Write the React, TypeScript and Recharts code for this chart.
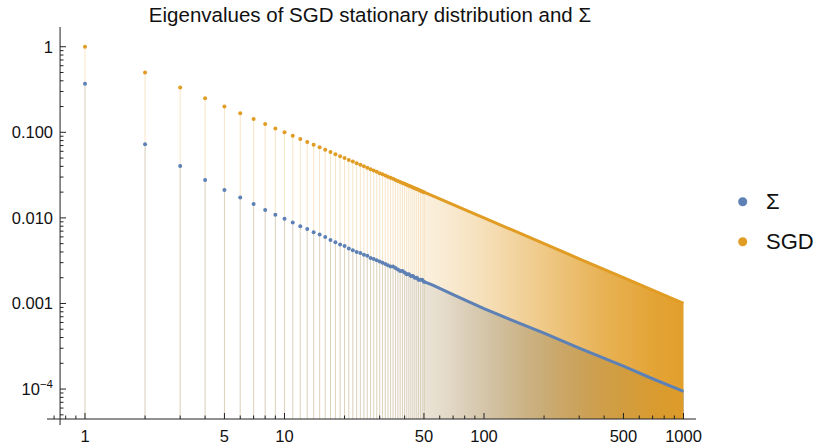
import React from 'react';
import { ComposedChart, XAxis, YAxis, Area, Line, ReferenceLine } from 'recharts';

// eigenvalue index (individually visible points)
const dotK = [
  1, 2, 3, 4, 5, 6, 7, 8, 9, 10, 11, 12, 13, 14, 15, 16, 17, 18, 19, 20,
  21, 22, 23, 24, 25, 26, 27, 28, 29, 30, 31, 32, 33, 34, 35, 36, 37, 38, 39, 40,
  41, 42, 43, 44, 45, 46, 47, 48, 49, 50,
];
const sgdDot = [
  1, 0.5, 0.3333, 0.25, 0.2, 0.1667, 0.1429, 0.125, 0.1111, 0.1,
  0.0909, 0.0833, 0.0769, 0.0714, 0.0667, 0.0625, 0.0588, 0.0556, 0.0526, 0.05,
  0.0476, 0.0455, 0.0435, 0.0417, 0.04, 0.0385, 0.037, 0.0357, 0.0345, 0.0333,
  0.0323, 0.0313, 0.0303, 0.0294, 0.0286, 0.0278, 0.027, 0.0263, 0.0256, 0.025,
  0.0244, 0.0238, 0.0233, 0.0227, 0.0222, 0.0217, 0.0213, 0.0208, 0.0204, 0.02,
];
const sigmaDot = [
  0.37, 0.0726, 0.0405, 0.0278, 0.0212, 0.0173, 0.0145, 0.0124, 0.0109, 0.0098,
  0.00885, 0.008, 0.0074, 0.0068, 0.0064, 0.006, 0.0055, 0.0052, 0.0049, 0.0047,
  0.0044, 0.0042, 0.004, 0.0039, 0.0037, 0.0036, 0.0034, 0.0033, 0.0032, 0.0031,
  0.003, 0.0029, 0.0028, 0.0027, 0.0027, 0.0026, 0.0025, 0.0024, 0.0024, 0.0023,
  0.0022, 0.0022, 0.0021, 0.0021, 0.002, 0.002, 0.0019, 0.0019, 0.0019, 0.0018,
];

// dense part, where the points merge into a band
const tailK = [55, 60, 70, 80, 100, 150, 200, 300, 500, 700, 1000];
const sgdTail = [0.0182, 0.0167, 0.0143, 0.0125, 0.01, 0.00667, 0.005, 0.00333, 0.002, 0.00143, 0.001];
const sigmaTail = [0.00165, 0.0015, 0.00127, 0.0011, 0.00087, 0.00059, 0.00045, 0.0003, 0.000185, 0.000132, 0.000094];

const xMajorTicks = [1, 5, 10, 50, 100, 500, 1000];
const xMinorTicks = [0.7, 0.8, 0.9, 2, 3, 4, 6, 7, 8, 9, 20, 30, 40, 60, 70, 80, 90, 200, 300, 400, 600, 700, 800, 900];
const yMajorTicks = [1, 0.1, 0.01, 0.001, 0.0001];
const yMajorLabels = ['1', '0.100', '0.010', '0.001', '10^-4'];
const yMinorTicks = [
  0.9, 0.8, 0.7, 0.6, 0.5, 0.4, 0.3, 0.2,
  0.09, 0.08, 0.07, 0.06, 0.05, 0.04, 0.03, 0.02,
  0.009, 0.008, 0.007, 0.006, 0.005, 0.004, 0.003, 0.002,
  0.0009, 0.0008, 0.0007, 0.0006, 0.0005, 0.0004, 0.0003, 0.0002,
  0.00009, 0.00008, 0.00007, 0.00006, 0.00005,
];

const seriesNames = ['Σ', 'SGD'];
const seriesColors = ['#5E81B5', '#E19C24'];

const X_DOMAIN = [0.645, 1155];
const Y_DOMAIN = [4.47e-5, 1.7];
const Y_AXIS_AT = 0.75;
const TAIL_FROM = 40;
const FONT = '"Liberation Sans", Arial, sans-serif';
const AXIS_COLOR = '#222';

const rows = [
  ...dotK.map((k, i) => ({
    k,
    sgd: sgdDot[i],
    sigma: sigmaDot[i],
    sgdPt: sgdDot[i],
    sigmaPt: sigmaDot[i],
    sgdLine: k >= TAIL_FROM ? sgdDot[i] : null,
    sigmaLine: k >= TAIL_FROM ? sigmaDot[i] : null,
  })),
  ...tailK.map((k, i) => ({
    k,
    sgd: sgdTail[i],
    sigma: sigmaTail[i],
    sgdPt: null,
    sigmaPt: null,
    sgdLine: sgdTail[i],
    sigmaLine: sigmaTail[i],
  })),
];

const XTick = (props: any) => {
  const { x, y, payload } = props;
  const major = xMajorTicks.includes(payload.value);
  return (
    <g>
      <line x1={x} x2={x} y1={y} y2={y - (major ? 6 : 3.5)} stroke={AXIS_COLOR} />
      {major && (
        <text x={x} y={y + 23} textAnchor="middle" fontSize={16.5} fontFamily={FONT} fill="#111">
          {payload.value}
        </text>
      )}
    </g>
  );
};

const YTick = (props: any) => {
  const { x, y, payload } = props;
  const idx = yMajorTicks.indexOf(payload.value);
  const major = idx >= 0;
  const axisX = x + 13;
  const label = major ? yMajorLabels[idx] : '';
  return (
    <g>
      <line x1={axisX} x2={axisX + (major ? 6 : 3.5)} y1={y} y2={y} stroke={AXIS_COLOR} />
      {major && (
        <text x={x + 6} y={y + 6} textAnchor="end" fontSize={16.5} fontFamily={FONT} fill="#111">
          {label.includes('^') ? (
            <>
              <tspan>{label.split('^')[0]}</tspan>
              <tspan dy={-7} fontSize={11.5}>{label.split('^')[1].replace('-', '−')}</tspan>
            </>
          ) : (
            label
          )}
        </text>
      )}
    </g>
  );
};

export default function App() {
  return (
    <div style={{ position: 'absolute', left: 0, top: 0, width: 820, height: 444, background: '#fff' }}>
      <div
        style={{
          position: 'absolute',
          left: 0,
          width: 740,
          top: 5,
          textAlign: 'center',
          fontFamily: FONT,
          fontSize: 20.5,
          lineHeight: '20.5px',
          color: '#111',
          whiteSpace: 'nowrap',
        }}
      >
        Eigenvalues of SGD stationary distribution and Σ
      </div>

      <ComposedChart width={820} height={444} data={rows} margin={{ top: 27, right: 124, bottom: 0, left: 0 }}>
        <defs>
          {/* stems get denser to the right: fill fades in with log(k) */}
          <linearGradient id="sigmaFade" x1="0" y1="0" x2="1" y2="0">
            <stop offset="0" stopColor={seriesColors[0]} stopOpacity={0} />
            <stop offset="0.5" stopColor={seriesColors[0]} stopOpacity={0} />
            <stop offset="0.566" stopColor={seriesColors[0]} stopOpacity={0.03} />
            <stop offset="0.5665" stopColor={seriesColors[0]} stopOpacity={0.12} />
            <stop offset="0.6" stopColor={seriesColors[0]} stopOpacity={0.16} />
            <stop offset="0.667" stopColor={seriesColors[0]} stopOpacity={0.3} />
            <stop offset="0.767" stopColor={seriesColors[0]} stopOpacity={0.5} />
            <stop offset="0.867" stopColor={seriesColors[0]} stopOpacity={0.7} />
            <stop offset="1" stopColor={seriesColors[0]} stopOpacity={0.9} />
          </linearGradient>
          <linearGradient id="sgdFade" x1="0" y1="0" x2="1" y2="0">
            <stop offset="0" stopColor={seriesColors[1]} stopOpacity={0} />
            <stop offset="0.5" stopColor={seriesColors[1]} stopOpacity={0} />
            <stop offset="0.566" stopColor={seriesColors[1]} stopOpacity={0.03} />
            <stop offset="0.5665" stopColor={seriesColors[1]} stopOpacity={0.15} />
            <stop offset="0.6" stopColor={seriesColors[1]} stopOpacity={0.2} />
            <stop offset="0.667" stopColor={seriesColors[1]} stopOpacity={0.32} />
            <stop offset="0.767" stopColor={seriesColors[1]} stopOpacity={0.55} />
            <stop offset="0.867" stopColor={seriesColors[1]} stopOpacity={0.78} />
            <stop offset="0.95" stopColor={seriesColors[1]} stopOpacity={0.92} />
            <stop offset="1" stopColor={seriesColors[1]} stopOpacity={0.97} />
          </linearGradient>
        </defs>
        <XAxis
          dataKey="k"
          type="number"
          scale="log"
          domain={X_DOMAIN}
          allowDataOverflow
          ticks={[...xMajorTicks, ...xMinorTicks]}
          interval={0}
          height={25}
          tickSize={0}
          tickMargin={0}
          tickLine={false}
          tick={<XTick />}
          axisLine={{ stroke: AXIS_COLOR }}
        />
        <YAxis
          type="number"
          scale="log"
          domain={Y_DOMAIN}
          allowDataOverflow
          ticks={[...yMajorTicks, ...yMinorTicks]}
          interval={0}
          width={47}
          tickSize={0}
          tickMargin={0}
          tickLine={false}
          axisLine={false}
          tick={<YTick />}
        />

        {/* stems from each visible point down to the axis */}
        {dotK.map((k, i) => (
          <ReferenceLine
            key={`ss${k}`}
            segment={[{ x: k, y: sigmaDot[i] }, { x: k, y: Y_DOMAIN[0] }]}
            stroke={seriesColors[0]}
            strokeOpacity={0.2}
          />
        ))}
        {dotK.map((k, i) => (
          <ReferenceLine
            key={`gs${k}`}
            segment={[{ x: k, y: sgdDot[i] }, { x: k, y: Y_DOMAIN[0] }]}
            stroke={seriesColors[1]}
            strokeOpacity={0.25}
          />
        ))}

        <Area type="linear" dataKey="sigma" stroke="none" fill="url(#sigmaFade)" fillOpacity={1} isAnimationActive={false} />
        <Area type="linear" dataKey="sgd" stroke="none" fill="url(#sgdFade)" fillOpacity={1} isAnimationActive={false} />

        <Line type="linear" dataKey="sigmaLine" stroke={seriesColors[0]} strokeWidth={3} dot={false} activeDot={false} isAnimationActive={false} />
        <Line type="linear" dataKey="sgdLine" stroke={seriesColors[1]} strokeWidth={3} dot={false} activeDot={false} isAnimationActive={false} />
        <Line
          type="linear"
          dataKey="sigmaPt"
          stroke="none"
          dot={{ r: 2, fill: seriesColors[0], stroke: 'none' }}
          activeDot={false}
          isAnimationActive={false}
        />
        <Line
          type="linear"
          dataKey="sgdPt"
          stroke="none"
          dot={{ r: 2, fill: seriesColors[1], stroke: 'none' }}
          activeDot={false}
          isAnimationActive={false}
        />

        {/* y axis sits at x = 0.75 and runs a little below the x axis */}
        <ReferenceLine
          segment={[{ x: Y_AXIS_AT, y: 3.8e-5 }, { x: Y_AXIS_AT, y: Y_DOMAIN[1] }]}
          stroke={AXIS_COLOR}
          ifOverflow="visible"
        />
      </ComposedChart>

      <svg style={{ position: 'absolute', left: 720, top: 180 }} width={100} height={80}>
        {seriesNames.map((name, i) => (
          <g key={name}>
            <circle cx={22.7} cy={21.7 + i * 40} r={4.5} fill={seriesColors[i]} />
            <text x={46} y={21.7 + i * 40 + 7.5} fontSize={22} fontFamily={FONT} fill="#111">
              {name}
            </text>
          </g>
        ))}
      </svg>
    </div>
  );
}
